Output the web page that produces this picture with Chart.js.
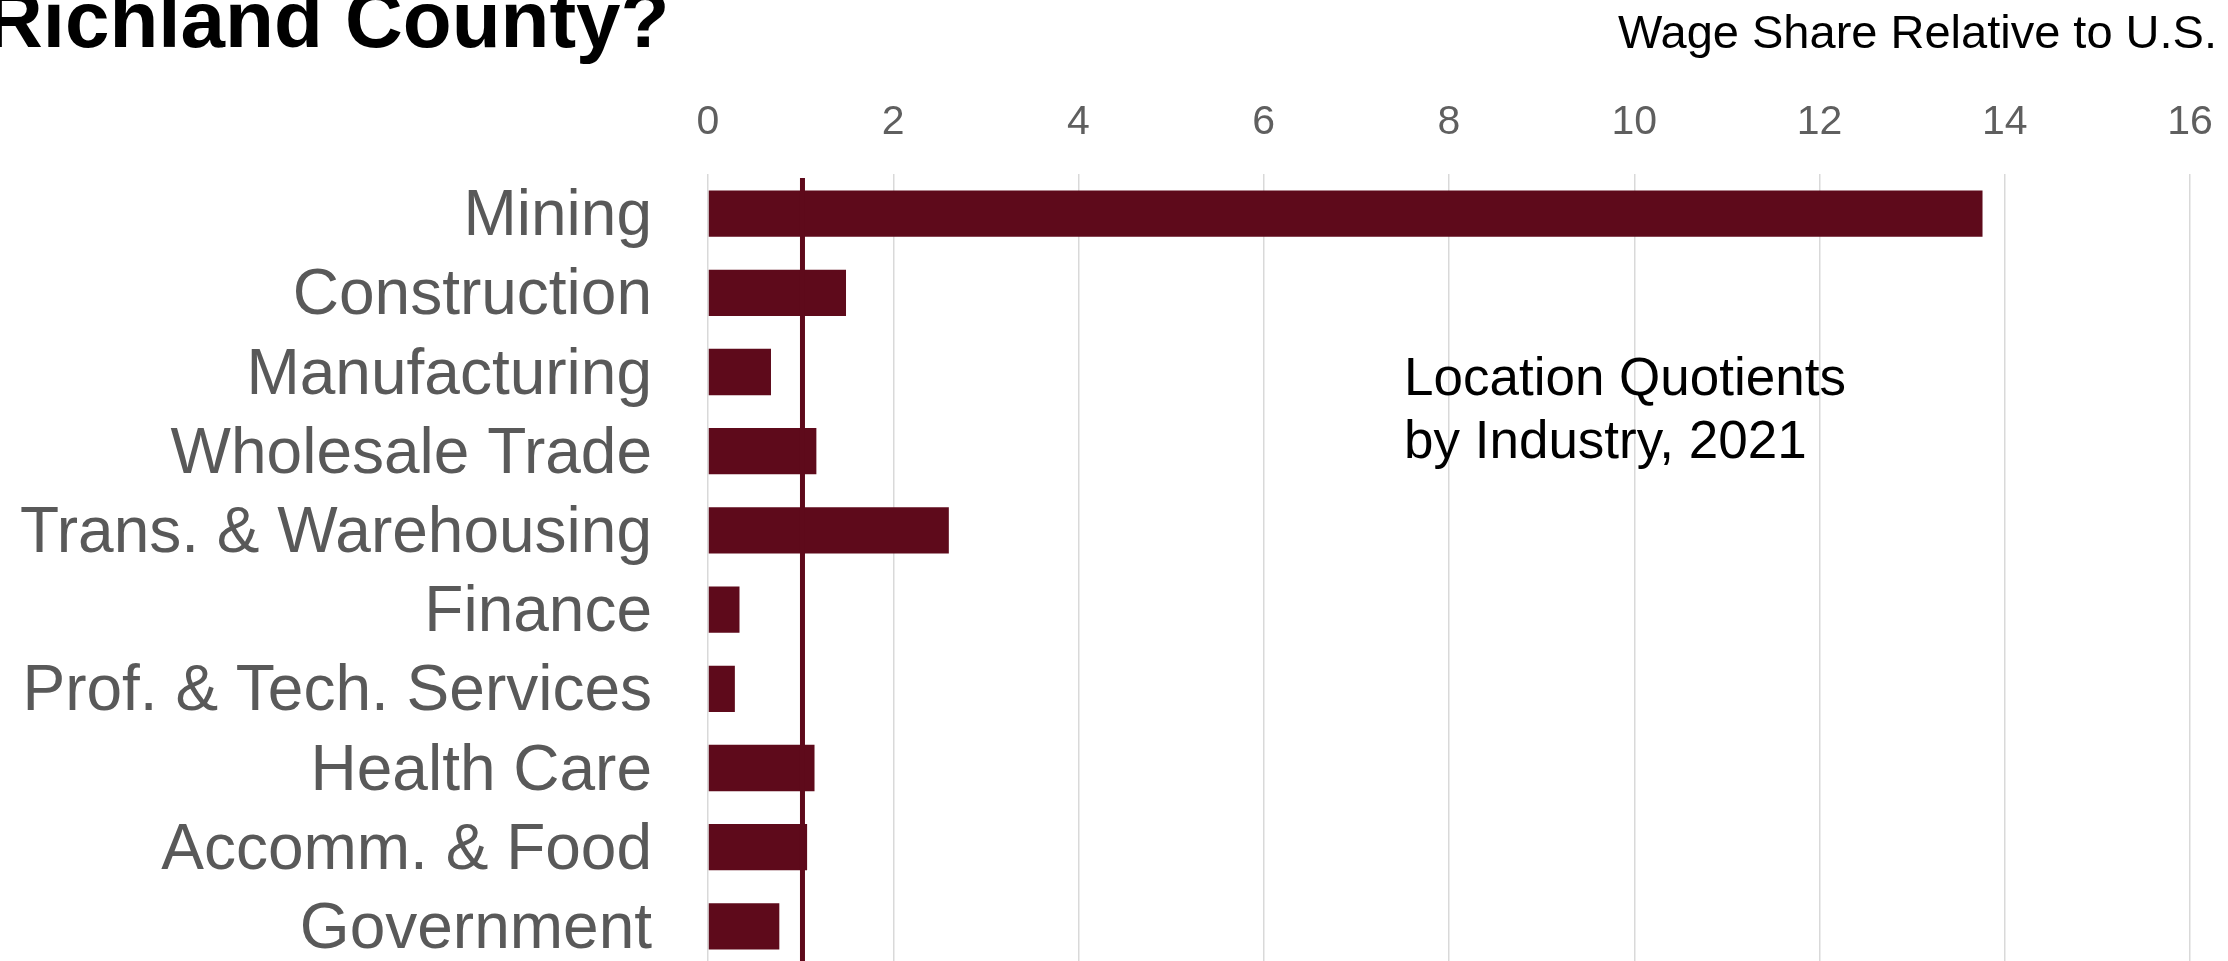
<!DOCTYPE html>
<html>
<head>
<meta charset="utf-8">
<script src="https://cdn.jsdelivr.net/npm/chart.js@4"></script>
<style>
    html, body { margin: 0; padding: 0; background: #fff; overflow: hidden; }
    #wrap { position: absolute; left: 0; top: 0; width: 2228px; height: 966px; }
</style>
</head>
<body>
<div id="wrap"><canvas id="lqChart"></canvas></div>
<script>
"use strict";

const industries = ['Mining', 'Construction', 'Manufacturing', 'Wholesale Trade', 'Trans. & Warehousing',
    'Finance', 'Prof. & Tech. Services', 'Health Care', 'Accomm. & Food', 'Government'];
const quotients = [13.76, 1.49, 0.68, 1.17, 2.6, 0.34, 0.29, 1.15, 1.07, 0.77];
const usLevel = 1.02;
const xTicks = [0, 2, 4, 6, 8, 10, 12, 14, 16];

const maroon = '#5e0a1b';
const font = '"Liberation Sans", Arial, sans-serif';

document.addEventListener('DOMContentLoaded', () => {
    const ctxEl = document.getElementById('lqChart');

    // reference line and the loose texts around the plot
    const extras = {
        id: 'extras',
        afterDatasetsDraw(chart) {
            const ctx = chart.ctx;
            const x = chart.scales.x.getPixelForValue(usLevel);
            ctx.save();
            ctx.strokeStyle = maroon;
            ctx.lineWidth = 5;
            ctx.beginPath();
            ctx.moveTo(x, 178);
            ctx.lineTo(x, chart.height);
            ctx.stroke();
            ctx.restore();
        },
        afterDraw(chart) {
            const ctx = chart.ctx;
            ctx.save();
            ctx.fillStyle = '#000';
            ctx.textBaseline = 'alphabetic';

            ctx.font = 'bold 80px ' + font;
            ctx.textAlign = 'left';
            ctx.fillText('Richland County?', -15, 47);

            ctx.font = '47px ' + font;
            ctx.textAlign = 'right';
            ctx.fillText('Wage Share Relative to U.S.', 2217, 48);

            ctx.font = '53px ' + font;
            ctx.textAlign = 'left';
            ctx.fillText('Location Quotients', 1404, 395);
            ctx.fillText('by Industry, 2021', 1404, 458);
            ctx.restore();
        }
    };

    new Chart(ctxEl, {
        type: 'bar',
        data: {
            labels: industries,
            datasets: [{
                data: quotients,
                backgroundColor: maroon,
                borderWidth: 0,
                barPercentage: 0.585,
                categoryPercentage: 1
            }]
        },
        options: {
            indexAxis: 'y',
            responsive: true,
            maintainAspectRatio: false,
            animation: false,
            layout: { padding: { top: 0, left: 0, right: 38, bottom: 0 } },
            plugins: {
                legend: { display: false },
                tooltip: { enabled: false }
            },
            scales: {
                x: {
                    position: 'top',
                    min: 0,
                    max: 16,
                    afterBuildTicks: (axis) => {
                        axis.ticks = xTicks.map(v => ({ value: v }));
                    },
                    afterFit: (axis) => {
                        axis.height = 174;
                        axis.paddingLeft = 0;
                        axis.paddingRight = 0;
                    },
                    grid: { color: '#d9d9d9', lineWidth: 1.5, drawTicks: false },
                    border: { display: false },
                    ticks: {
                        color: '#5f5f5f',
                        padding: 27,
                        autoSkip: false,
                        maxRotation: 0,
                        font: { family: font, size: 41 }
                    }
                },
                y: {
                    afterFit: (axis) => {
                        axis.width = 708;
                        axis.paddingTop = 0;
                        axis.paddingBottom = 0;
                    },
                    grid: { display: false, drawTicks: false },
                    border: { display: false },
                    ticks: {
                        color: '#595959',
                        padding: 56,
                        labelOffset: 4,
                        autoSkip: false,
                        font: { family: font, size: 64 }
                    }
                }
            }
        },
        plugins: [extras]
    });
});
</script>
</body>
</html>
